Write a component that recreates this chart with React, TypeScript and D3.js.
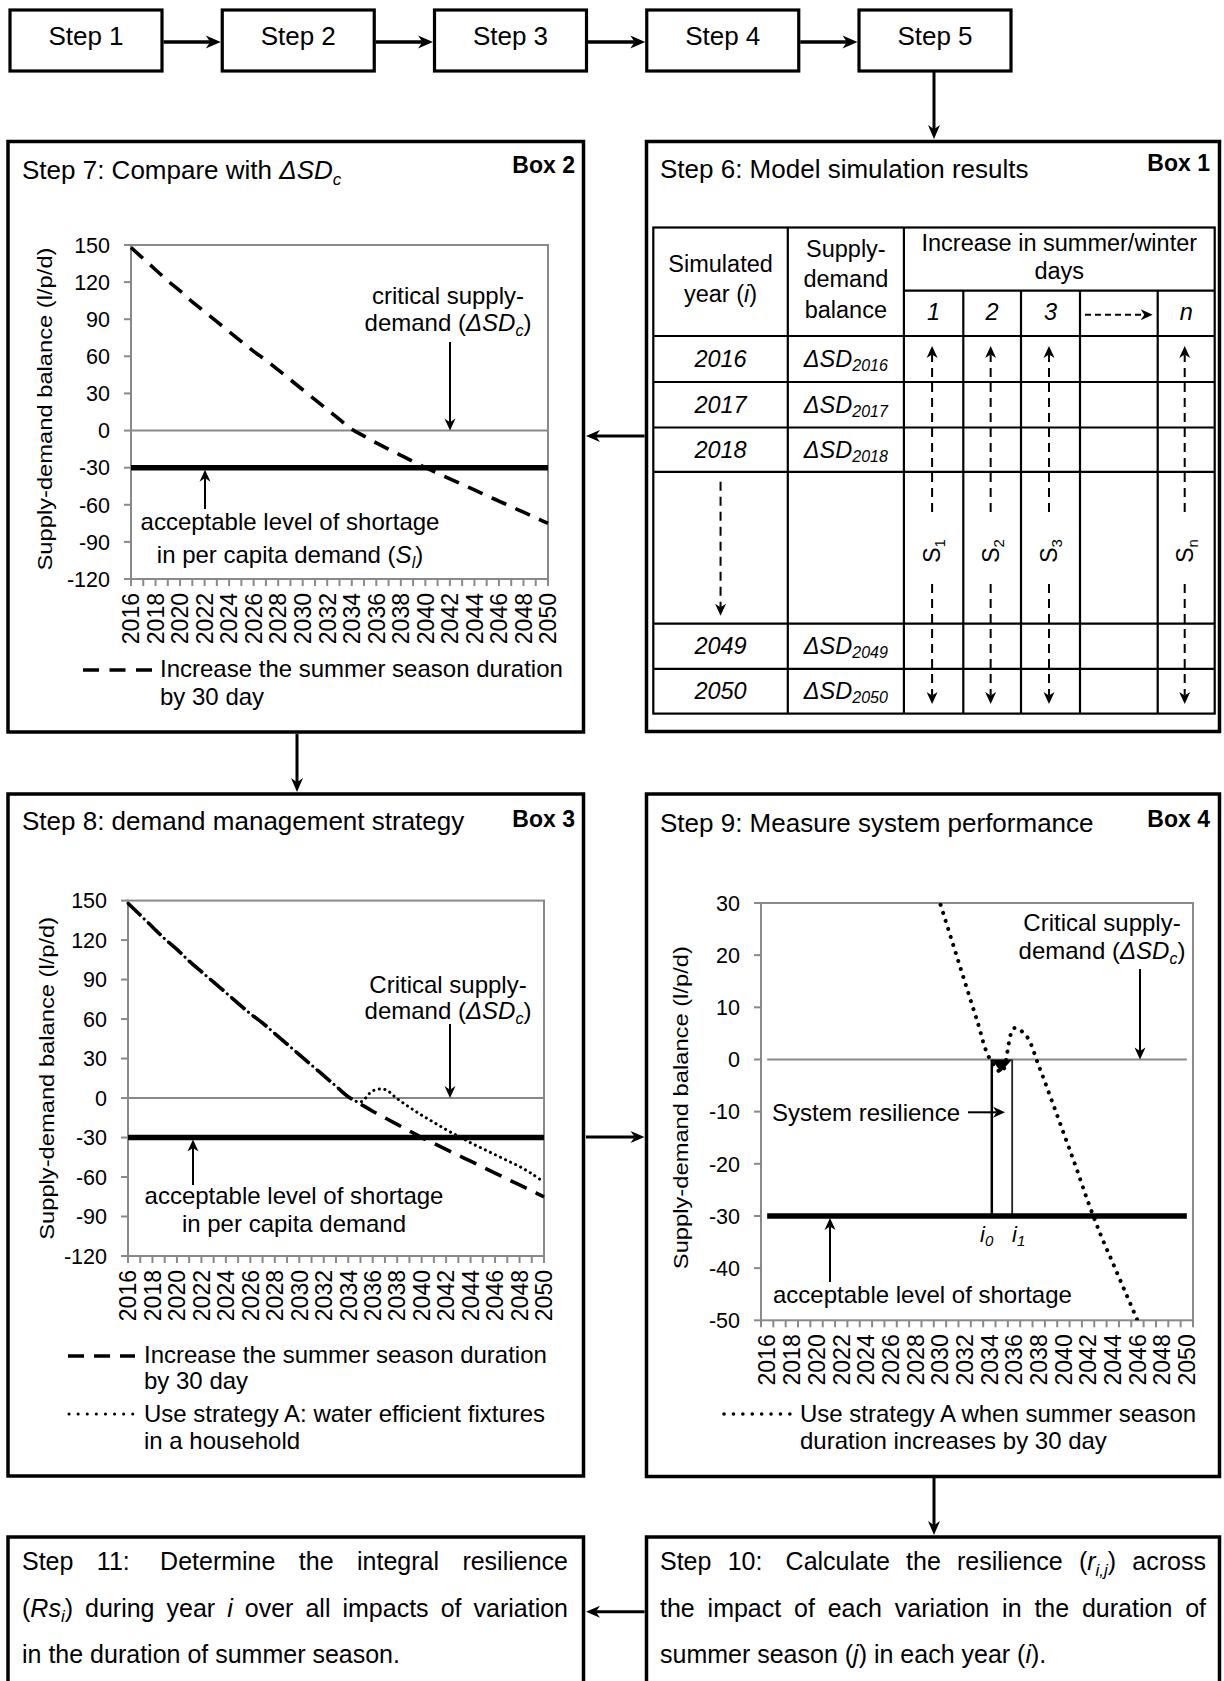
import React from 'react';
import * as d3 from 'd3';

const FONT = "Arial, 'Liberation Sans', Helvetica, sans-serif";
const GRAY = '#898989';

// ---------------- data ----------------
const topSteps = ['Step 1', 'Step 2', 'Step 3', 'Step 4', 'Step 5'];
const years = [2016, 2017, 2018, 2019, 2020, 2021, 2022, 2023, 2024, 2025, 2026, 2027, 2028, 2029, 2030, 2031, 2032, 2033, 2034, 2035, 2036, 2037, 2038, 2039, 2040, 2041, 2042, 2043, 2044, 2045, 2046, 2047, 2048, 2049, 2050];
const labelYears = [2016, 2018, 2020, 2022, 2024, 2026, 2028, 2030, 2032, 2034, 2036, 2038, 2040, 2042, 2044, 2046, 2048, 2050];
const ticksBalance = [150, 120, 90, 60, 30, 0, -30, -60, -90, -120];
const ticksZoom = [30, 20, 10, 0, -10, -20, -30, -40, -50];
const criticalSD = 0;
const acceptableShortage = -30;
// Increase the summer season duration by 30 day
const summer30 = [148, 139, 130, 121, 113, 104, 96, 88, 80, 72, 64, 57, 49, 41, 33, 25, 17, 9, 1, -4.5, -10, -15, -20, -25, -30, -34.5, -39, -43.5, -48, -52.5, -57, -61.5, -66, -70.5, -75];
// Strategy A: water efficient fixtures (Box 3)
const strategyA = [148, 139, 130, 121, 113, 104, 96, 88, 80, 72, 64, 57, 49, 41, 33, 25, 17, 9, 1, -3, 5.5, 6.5, -0.5, -7, -13, -18.5, -24, -29, -34, -38.5, -43, -47.5, -52, -57.5, -64];
// Strategy A as plotted in Box 4 (zoomed)
const strategyAZoom: (number | null)[] = [null, null, null, null, null, null, null, null, null, null, null, null, 45, 37.5, 30, 22.5, 15, 7.5, 0.3, -2.4, 6, 4.5, -1.2, -7.5, -14, -20.5, -27.3, -33.5, -39, -44.5, -50, -55.5, -61, null, null];
const resilienceYears = [2034.2, 2035.85];
const resilienceDip = { year: 2034.92, value: -2.4 };
const tableYears = ['2016', '2017', '2018', '', '2049', '2050'];
const scenarioHeads = ['1', '2', '3', '', 'n'];
const scenarioSubs = ['1', '2', '3', '', 'n'];

// ---------------- helpers ----------------
type Part = { t: string; it?: boolean; sub?: boolean };
type Word = Part[];
let _ctx: CanvasRenderingContext2D | null = null;
function partWidth(p: Part, size: number) {
  if (!_ctx) _ctx = document.createElement('canvas').getContext('2d');
  const s = p.sub ? size * 0.68 : size;
  _ctx!.font = `${p.it ? 'italic ' : ''}${s}px ${FONT}`;
  return _ctx!.measureText(p.t).width;
}
const W = (s: string): Word => [{ t: s }];
const Ws = (s: string): Word[] => s.split(' ').map(W);

function WordText({ word, x, y, size }: { word: Word; x: number; y: number; size: number }) {
  const off = size * 0.22;
  let prevSub = false;
  return (
    <text x={x} y={y} fontSize={size}>
      {word.map((p, i) => {
        const dy = p.sub && !prevSub ? off : !p.sub && prevSub ? -off : 0;
        prevSub = !!p.sub;
        return (
          <tspan key={i} dy={dy || undefined} fontStyle={p.it ? 'italic' : undefined} fontSize={p.sub ? size * 0.68 : undefined}>
            {p.t}
          </tspan>
        );
      })}
    </text>
  );
}

function Paragraph({ x, x2, y0, lh, size, lines }: { x: number; x2: number; y0: number; lh: number; size: number; lines: Word[][] }) {
  return (
    <g>
      {lines.map((words, li) => {
        const widths = words.map((w) => w.reduce((a, p) => a + partWidth(p, size), 0));
        const total = d3.sum(widths);
        const last = li === lines.length - 1;
        const gap = last ? partWidth({ t: ' ' }, size) : (x2 - x - total) / (words.length - 1);
        let cx = x;
        return words.map((w, wi) => {
          const el = <WordText key={`${li}-${wi}`} word={w} x={cx} y={y0 + li * lh} size={size} />;
          cx += widths[wi] + gap;
          return el;
        });
      })}
    </g>
  );
}

function Arrow({ x1, y1, x2, y2, sw = 2, len = 12, hw = 5.5, dash }: { x1: number; y1: number; x2: number; y2: number; sw?: number; len?: number; hw?: number; dash?: string }) {
  const dx = x2 - x1, dy = y2 - y1;
  const L = Math.hypot(dx, dy);
  const ux = dx / L, uy = dy / L;
  const nx = -uy, ny = ux;
  const bx = x2 - ux * len, by = y2 - uy * len;
  const kx = bx + ux * len * 0.3, ky = by + uy * len * 0.3;
  const pts = [[x2, y2], [bx + nx * hw, by + ny * hw], [kx, ky], [bx - nx * hw, by - ny * hw]];
  return (
    <g>
      <line x1={x1} y1={y1} x2={kx} y2={ky} stroke="#000" strokeWidth={sw} strokeDasharray={dash} />
      <polygon points={pts.map((p) => p.join(',')).join(' ')} fill="#000" />
    </g>
  );
}

type Rect = { left: number; right: number; top: number; bottom: number };

function Axes({ p, y, yTicks, tickXs, labels }: { p: Rect; y: d3.ScaleLinear<number, number>; yTicks: number[]; tickXs: number[]; labels: { x: number; t: string }[] }) {
  return (
    <g>
      <rect x={p.left} y={p.top} width={p.right - p.left} height={p.bottom - p.top} fill="none" stroke={GRAY} strokeWidth={2} />
      {yTicks.map((t) => (
        <g key={t}>
          <line x1={p.left - 7} x2={p.left} y1={y(t)} y2={y(t)} stroke={GRAY} strokeWidth={2} />
          <text x={p.left - 21} y={y(t)} dy="0.36em" textAnchor="end" fontSize={21.5}>
            {String(t)}
          </text>
        </g>
      ))}
      {tickXs.map((x, i) => (
        <line key={i} x1={x} x2={x} y1={p.bottom} y2={p.bottom + 7} stroke={GRAY} strokeWidth={2} />
      ))}
      {labels.map((l) => (
        <text key={l.t} transform={`translate(${l.x},${p.bottom + 14}) rotate(-90)`} textAnchor="end" dy="0.36em" fontSize={23}>
          {l.t}
        </text>
      ))}
    </g>
  );
}

function YLabel({ x, cy }: { x: number; cy: number }) {
  return (
    <text transform={`translate(${x},${cy}) rotate(-90)`} textAnchor="middle" fontSize={21} textLength={323} lengthAdjust="spacingAndGlyphs">
      Supply-demand balance (l/p/d)
    </text>
  );
}

function BoxFrame({ x, y, w, h }: { x: number; y: number; w: number; h: number }) {
  return <rect x={x} y={y} width={w} height={h} fill="#fff" stroke="#000" strokeWidth={3.5} />;
}

function seriesLine(x: (v: number) => number, y: d3.ScaleLinear<number, number>) {
  return d3
    .line<number | null>()
    .defined((v) => v != null)
    .x((_, i) => x(years[i]))
    .y((v) => y(v as number))
    .curve(d3.curveCatmullRom.alpha(0.5));
}

// ---------------- Box 2 ----------------
function Box2() {
  const p: Rect = { left: 131, right: 548, top: 245, bottom: 579 };
  const x = d3.scaleLinear().domain([2016, 2050]).range([p.left, p.right]);
  const y = d3.scaleLinear().domain([-120, 150]).range([p.bottom, p.top]);
  const line = seriesLine(x, y);
  return (
    <g>
      <BoxFrame x={8} y={141.5} w={575.5} h={590.5} />
      <text x={22} y={179} fontSize={26}>
        Step 7: Compare with <tspan fontStyle="italic">ΔSD</tspan>
        <tspan fontStyle="italic" fontSize={17} dy={6}>c</tspan>
      </text>
      <text x={575} y={173} textAnchor="end" fontWeight="bold" fontSize={23}>Box 2</text>
      <YLabel x={52} cy={(p.top + p.bottom) / 2 - 3} />
      <Axes p={p} y={y} yTicks={ticksBalance} tickXs={years.map((v) => x(v))} labels={labelYears.map((v) => ({ x: x(v), t: String(v) }))} />
      <line x1={p.left} x2={p.right} y1={y(criticalSD)} y2={y(criticalSD)} stroke={GRAY} strokeWidth={2} />
      <line x1={p.left} x2={p.right} y1={y(acceptableShortage)} y2={y(acceptableShortage)} stroke="#000" strokeWidth={5.5} />
      <path d={line(summer30) || ''} fill="none" stroke="#000" strokeWidth={3.6} strokeDasharray="16 10" />
      <text x={448} y={304} textAnchor="middle" fontSize={24}>critical supply-</text>
      <text x={448} y={331} textAnchor="middle" fontSize={24}>
        demand (<tspan fontStyle="italic">ΔSD</tspan>
        <tspan fontStyle="italic" fontSize={16} dy={5}>c</tspan>
        <tspan dy={-5}>)</tspan>
      </text>
      <Arrow x1={450} y1={342} x2={450} y2={y(criticalSD)} />
      <text x={290} y={530} textAnchor="middle" fontSize={24}>acceptable level of shortage</text>
      <text x={290} y={562.5} textAnchor="middle" fontSize={24}>
        in per capita demand (<tspan fontStyle="italic">S</tspan>
        <tspan fontStyle="italic" fontSize={16} dy={5}>l</tspan>
        <tspan dy={-5}>)</tspan>
      </text>
      <Arrow x1={205} y1={509} x2={205} y2={y(acceptableShortage) + 2} />
      <line x1={83} x2={152} y1={670} y2={670} stroke="#000" strokeWidth={3.6} strokeDasharray="16 10.5" />
      <text x={160} y={677.3} fontSize={24}>Increase the summer season duration</text>
      <text x={160} y={705} fontSize={24}>by 30 day</text>
    </g>
  );
}

// ---------------- Box 1 ----------------
function Box1() {
  const cols = [653.3, 787.8, 903.9, 963.3, 1021, 1080, 1157.7, 1214.7];
  const rows = [227.5, 336, 382, 427.5, 471.8, 623.7, 668.8, 713.6];
  const split = 290.7;
  const bodyRows = [0, 1, 2, 3, 4, 5];
  const subCenters = [0, 1, 2, 3, 4].map((i) => (cols[2 + i] + cols[3 + i]) / 2);
  return (
    <g>
      <BoxFrame x={646.5} y={141.5} w={573} h={590} />
      <text x={660} y={178} fontSize={26}>Step 6: Model simulation results</text>
      <text x={1210} y={171} textAnchor="end" fontWeight="bold" fontSize={23}>Box 1</text>
      <g stroke="#000" strokeWidth={2.2}>
        <rect x={cols[0]} y={rows[0]} width={cols[7] - cols[0]} height={rows[7] - rows[0]} fill="none" />
        {[1, 2].map((i) => <line key={i} x1={cols[i]} x2={cols[i]} y1={rows[0]} y2={rows[7]} />)}
        {[3, 4, 5, 6].map((i) => <line key={i} x1={cols[i]} x2={cols[i]} y1={split} y2={rows[7]} />)}
        <line x1={cols[2]} x2={cols[7]} y1={split} y2={split} />
        {[1, 2, 3, 4, 5, 6].map((i) => <line key={i} x1={cols[0]} x2={cols[7]} y1={rows[i]} y2={rows[i]} />)}
      </g>
      <g fontSize={23.5} textAnchor="middle">
        <text x={(cols[0] + cols[1]) / 2} y={271.7}>Simulated</text>
        <text x={(cols[0] + cols[1]) / 2} y={302}>year (<tspan fontStyle="italic">i</tspan>)</text>
        <text x={(cols[1] + cols[2]) / 2} y={256.7}>Supply-</text>
        <text x={(cols[1] + cols[2]) / 2} y={287}>demand</text>
        <text x={(cols[1] + cols[2]) / 2} y={318.3}>balance</text>
        <text x={(cols[2] + cols[7]) / 2} y={250.5}>Increase in summer/winter</text>
        <text x={(cols[2] + cols[7]) / 2} y={279}>days</text>
        {scenarioHeads.map((h, i) => h ? (
          <text key={i} x={subCenters[i]} y={319.5} fontStyle="italic">{h}</text>
        ) : null)}
        {bodyRows.map((r) => tableYears[r] ? (
          <g key={r}>
            <text x={(cols[0] + cols[1]) / 2} y={(rows[r + 1] + rows[r + 2]) / 2 + 8} fontStyle="italic">{tableYears[r]}</text>
            <text x={(cols[1] + cols[2]) / 2} y={(rows[r + 1] + rows[r + 2]) / 2 + 8} fontStyle="italic">
              ΔSD<tspan fontSize={16} dy={4}>{tableYears[r]}</tspan>
            </text>
          </g>
        ) : null)}
      </g>
      <Arrow x1={cols[5] + 5} y1={314.8} x2={cols[6] - 5} y2={314.8} sw={2} len={12} hw={5.5} dash="6 4" />
      <Arrow x1={(cols[0] + cols[1]) / 2} y1={rows[4] + 10} x2={(cols[0] + cols[1]) / 2} y2={rows[5] - 8} sw={2} len={12} hw={5.5} dash="9 6" />
      {scenarioSubs.map((s, i) => s ? (
        <g key={i}>
          <Arrow x1={subCenters[i] - 1.5} y1={512} x2={subCenters[i] - 1.5} y2={346} sw={2} len={12} hw={5.5} dash="9 6" />
          <Arrow x1={subCenters[i] - 1.5} y1={584} x2={subCenters[i] - 1.5} y2={704} sw={2} len={12} hw={5.5} dash="9 6" />
          <text transform={`translate(${subCenters[i] - 1.5},551) rotate(-90)`} textAnchor="middle" dy="0.36em" fontSize={23}>
            S<tspan fontSize={15} dy={5}>{s}</tspan>
          </text>
        </g>
      ) : null)}
    </g>
  );
}

// ---------------- Box 3 ----------------
function Box3() {
  const p: Rect = { left: 128, right: 544, top: 900.6, bottom: 1256 };
  const x = d3.scaleLinear().domain([2016, 2050]).range([p.left, p.right]);
  const y = d3.scaleLinear().domain([-120, 150]).range([p.bottom, p.top]);
  const line = seriesLine(x, y);
  return (
    <g>
      <BoxFrame x={8} y={794} w={575.5} h={682} />
      <text x={22} y={830} fontSize={26}>Step 8: demand management strategy</text>
      <text x={575} y={827} textAnchor="end" fontWeight="bold" fontSize={23}>Box 3</text>
      <YLabel x={54} cy={(p.top + p.bottom) / 2} />
      <Axes p={p} y={y} yTicks={ticksBalance} tickXs={years.map((v) => x(v))} labels={labelYears.map((v) => ({ x: x(v), t: String(v) }))} />
      <line x1={p.left} x2={p.right} y1={y(criticalSD)} y2={y(criticalSD)} stroke={GRAY} strokeWidth={2} />
      <line x1={p.left} x2={p.right} y1={y(acceptableShortage)} y2={y(acceptableShortage)} stroke="#000" strokeWidth={5.5} />
      <path d={line(summer30) || ''} fill="none" stroke="#000" strokeWidth={3.6} strokeDasharray="18 10" />
      <path d={line(strategyA) || ''} fill="none" stroke="#000" strokeWidth={3} strokeDasharray="0.1 5.5" strokeLinecap="round" />
      <text x={448} y={992.6} textAnchor="middle" fontSize={24}>Critical supply-</text>
      <text x={448} y={1018.5} textAnchor="middle" fontSize={24}>
        demand (<tspan fontStyle="italic">ΔSD</tspan>
        <tspan fontStyle="italic" fontSize={16} dy={5}>c</tspan>
        <tspan dy={-5}>)</tspan>
      </text>
      <Arrow x1={450} y1={1024} x2={450} y2={y(criticalSD)} />
      <text x={294} y={1203.6} textAnchor="middle" fontSize={24}>acceptable level of shortage</text>
      <text x={294} y={1232} textAnchor="middle" fontSize={24}>in per capita demand</text>
      <Arrow x1={193} y1={1185} x2={193} y2={y(acceptableShortage) + 2} />
      <line x1={68} x2={135} y1={1356} y2={1356} stroke="#000" strokeWidth={3.6} strokeDasharray="16 10" />
      <text x={144} y={1362.8} fontSize={24}>Increase the summer season duration</text>
      <text x={144} y={1389} fontSize={24}>by 30 day</text>
      <line x1={69} x2={133} y1={1414} y2={1414} stroke="#000" strokeWidth={3} strokeDasharray="0.1 9" strokeLinecap="round" />
      <text x={144} y={1421.5} fontSize={24}>Use strategy A: water efficient fixtures</text>
      <text x={144} y={1449} fontSize={24}>in a household</text>
    </g>
  );
}

// ---------------- Box 4 ----------------
function Box4() {
  const p: Rect = { left: 761, right: 1193, top: 903, bottom: 1320.3 };
  const xb = d3.scalePoint<number>().domain(years).range([p.left, p.right]).padding(0.5);
  const step = xb.step();
  const x = d3.scaleLinear().domain([2016, 2050]).range([xb(2016)!, xb(2050)!]);
  const y = d3.scaleLinear().domain([-50, 30]).range([p.bottom, p.top]);
  const line = seriesLine(x, y);
  const tickXs = [...years.map((v) => xb(v)! - step / 2), xb(2050)! + step / 2];
  const [i0, i1] = resilienceYears;
  const tri = [[x(i0), y(criticalSD)], [x(i1), y(criticalSD)], [x(resilienceDip.year), y(resilienceDip.value)]];
  return (
    <g>
      <defs>
        <clipPath id="clip4">
          <rect x={p.left} y={p.top} width={p.right - p.left} height={p.bottom - p.top} />
        </clipPath>
      </defs>
      <BoxFrame x={646.5} y={794} w={573} h={682.5} />
      <text x={660} y={832} fontSize={26}>Step 9: Measure system performance</text>
      <text x={1210} y={827} textAnchor="end" fontWeight="bold" fontSize={23}>Box 4</text>
      <YLabel x={688} cy={(p.top + p.bottom) / 2 - 4} />
      <Axes p={p} y={y} yTicks={ticksZoom} tickXs={tickXs} labels={labelYears.map((v) => ({ x: xb(v)!, t: String(v) }))} />
      <line x1={x(2016)} x2={x(2050)} y1={y(criticalSD)} y2={y(criticalSD)} stroke={GRAY} strokeWidth={2} />
      <line x1={x(i0)} x2={x(i0)} y1={y(criticalSD)} y2={y(acceptableShortage)} stroke="#000" strokeWidth={2.5} />
      <line x1={x(i1)} x2={x(i1)} y1={y(criticalSD)} y2={y(acceptableShortage)} stroke="#222" strokeWidth={1.8} />
      <line x1={x(2016)} x2={x(2050)} y1={y(acceptableShortage)} y2={y(acceptableShortage)} stroke="#000" strokeWidth={5.5} />
      <polygon points={tri.map((q) => q.join(',')).join(' ')} fill="#000" />
      <path d={line(strategyAZoom) || ''} fill="none" stroke="#000" strokeWidth={4} strokeDasharray="0.1 8.3" strokeLinecap="round" clipPath="url(#clip4)" />
      <text x={1102} y={931.4} textAnchor="middle" fontSize={24}>Critical supply-</text>
      <text x={1102} y={958.8} textAnchor="middle" fontSize={24}>
        demand (<tspan fontStyle="italic">ΔSD</tspan>
        <tspan fontStyle="italic" fontSize={16} dy={5}>c</tspan>
        <tspan dy={-5}>)</tspan>
      </text>
      <Arrow x1={1140} y1={969} x2={1140} y2={y(criticalSD)} />
      <text x={772} y={1120.5} fontSize={24}>System resilience</text>
      <Arrow x1={968} y1={1112.3} x2={1005} y2={1112.3} />
      <text x={980} y={1242} fontSize={22} fontStyle="italic">
        i<tspan fontSize={15} dy={4}>0</tspan>
      </text>
      <text x={1012} y={1242} fontSize={22} fontStyle="italic">
        i<tspan fontSize={15} dy={4}>1</tspan>
      </text>
      <text x={773} y={1303} fontSize={24}>acceptable level of shortage</text>
      <Arrow x1={830} y1={1282} x2={830} y2={y(acceptableShortage) + 2} />
      <line x1={724} x2={790} y1={1414} y2={1414} stroke="#000" strokeWidth={3.5} strokeDasharray="0.1 9.3" strokeLinecap="round" />
      <text x={800} y={1421.5} fontSize={24}>Use strategy A when summer season</text>
      <text x={800} y={1449} fontSize={24}>duration increases by 30 day</text>
    </g>
  );
}

// ---------------- bottom boxes ----------------
const step11Lines: Word[][] = [
  [...Ws('Step'), W('11:\u00a0'), ...Ws('Determine the integral resilience')],
  [[{ t: '(' }, { t: 'Rs', it: true }, { t: 'i', it: true, sub: true }, { t: ')' }], ...Ws('during year'), [{ t: 'i', it: true }], ...Ws('over all impacts of variation')],
  Ws('in the duration of summer season.'),
];
const step10Lines: Word[][] = [
  [...Ws('Step'), W('10:\u00a0'), ...Ws('Calculate the resilience'), [{ t: '(' }, { t: 'r', it: true }, { t: 'i,j', it: true, sub: true }, { t: ')' }], W('across')],
  Ws('the impact of each variation in the duration of'),
  [...Ws('summer season'), [{ t: '(' }, { t: 'j', it: true }, { t: ')' }], ...Ws('in each year'), [{ t: '(' }, { t: 'i', it: true }, { t: ').' }]],
];

export default function App() {
  const stepLeft = d3.scaleLinear().domain([0, 4]).range([10, 859]);
  const boxW = 152;
  return (
    <svg width={1224} height={1681} style={{ position: 'absolute', left: 0, top: 0, background: '#fff' }} fontFamily={FONT}>
      <rect width={1224} height={1681} fill="#fff" />
      {topSteps.map((s, i) => (
        <g key={s}>
          <rect x={stepLeft(i)} y={10} width={boxW} height={61} fill="#fff" stroke="#000" strokeWidth={3.2} />
          <text x={stepLeft(i) + boxW / 2} y={45} textAnchor="middle" fontSize={26}>{s}</text>
          {i < topSteps.length - 1 ? (
            <Arrow x1={stepLeft(i) + boxW + 1.5} y1={42} x2={stepLeft(i + 1) - 1.5} y2={42} sw={3.5} len={15} hw={6.5} />
          ) : null}
        </g>
      ))}
      <Arrow x1={934} y1={72} x2={934} y2={139} sw={3} len={14} hw={6} />
      <Box2 />
      <Box1 />
      <Arrow x1={644.5} y1={436} x2={586} y2={436} sw={3} len={14} hw={6} />
      <Arrow x1={297} y1={734} x2={297} y2={792} sw={3} len={14} hw={6} />
      <Box3 />
      <Box4 />
      <Arrow x1={586} y1={1137} x2={644.5} y2={1137} sw={3} len={14} hw={6} />
      <Arrow x1={934} y1={1478} x2={934} y2={1535} sw={3} len={14} hw={6} />
      <BoxFrame x={8} y={1537} w={575.5} h={200} />
      <BoxFrame x={646.5} y={1537} w={573} h={200} />
      <Paragraph x={22} x2={568} y0={1570} lh={46.7} size={25} lines={step11Lines} />
      <Paragraph x={660} x2={1206} y0={1570} lh={46.7} size={25} lines={step10Lines} />
      <Arrow x1={644.5} y1={1611.7} x2={586} y2={1611.7} sw={3} len={14} hw={6} />
    </svg>
  );
}
